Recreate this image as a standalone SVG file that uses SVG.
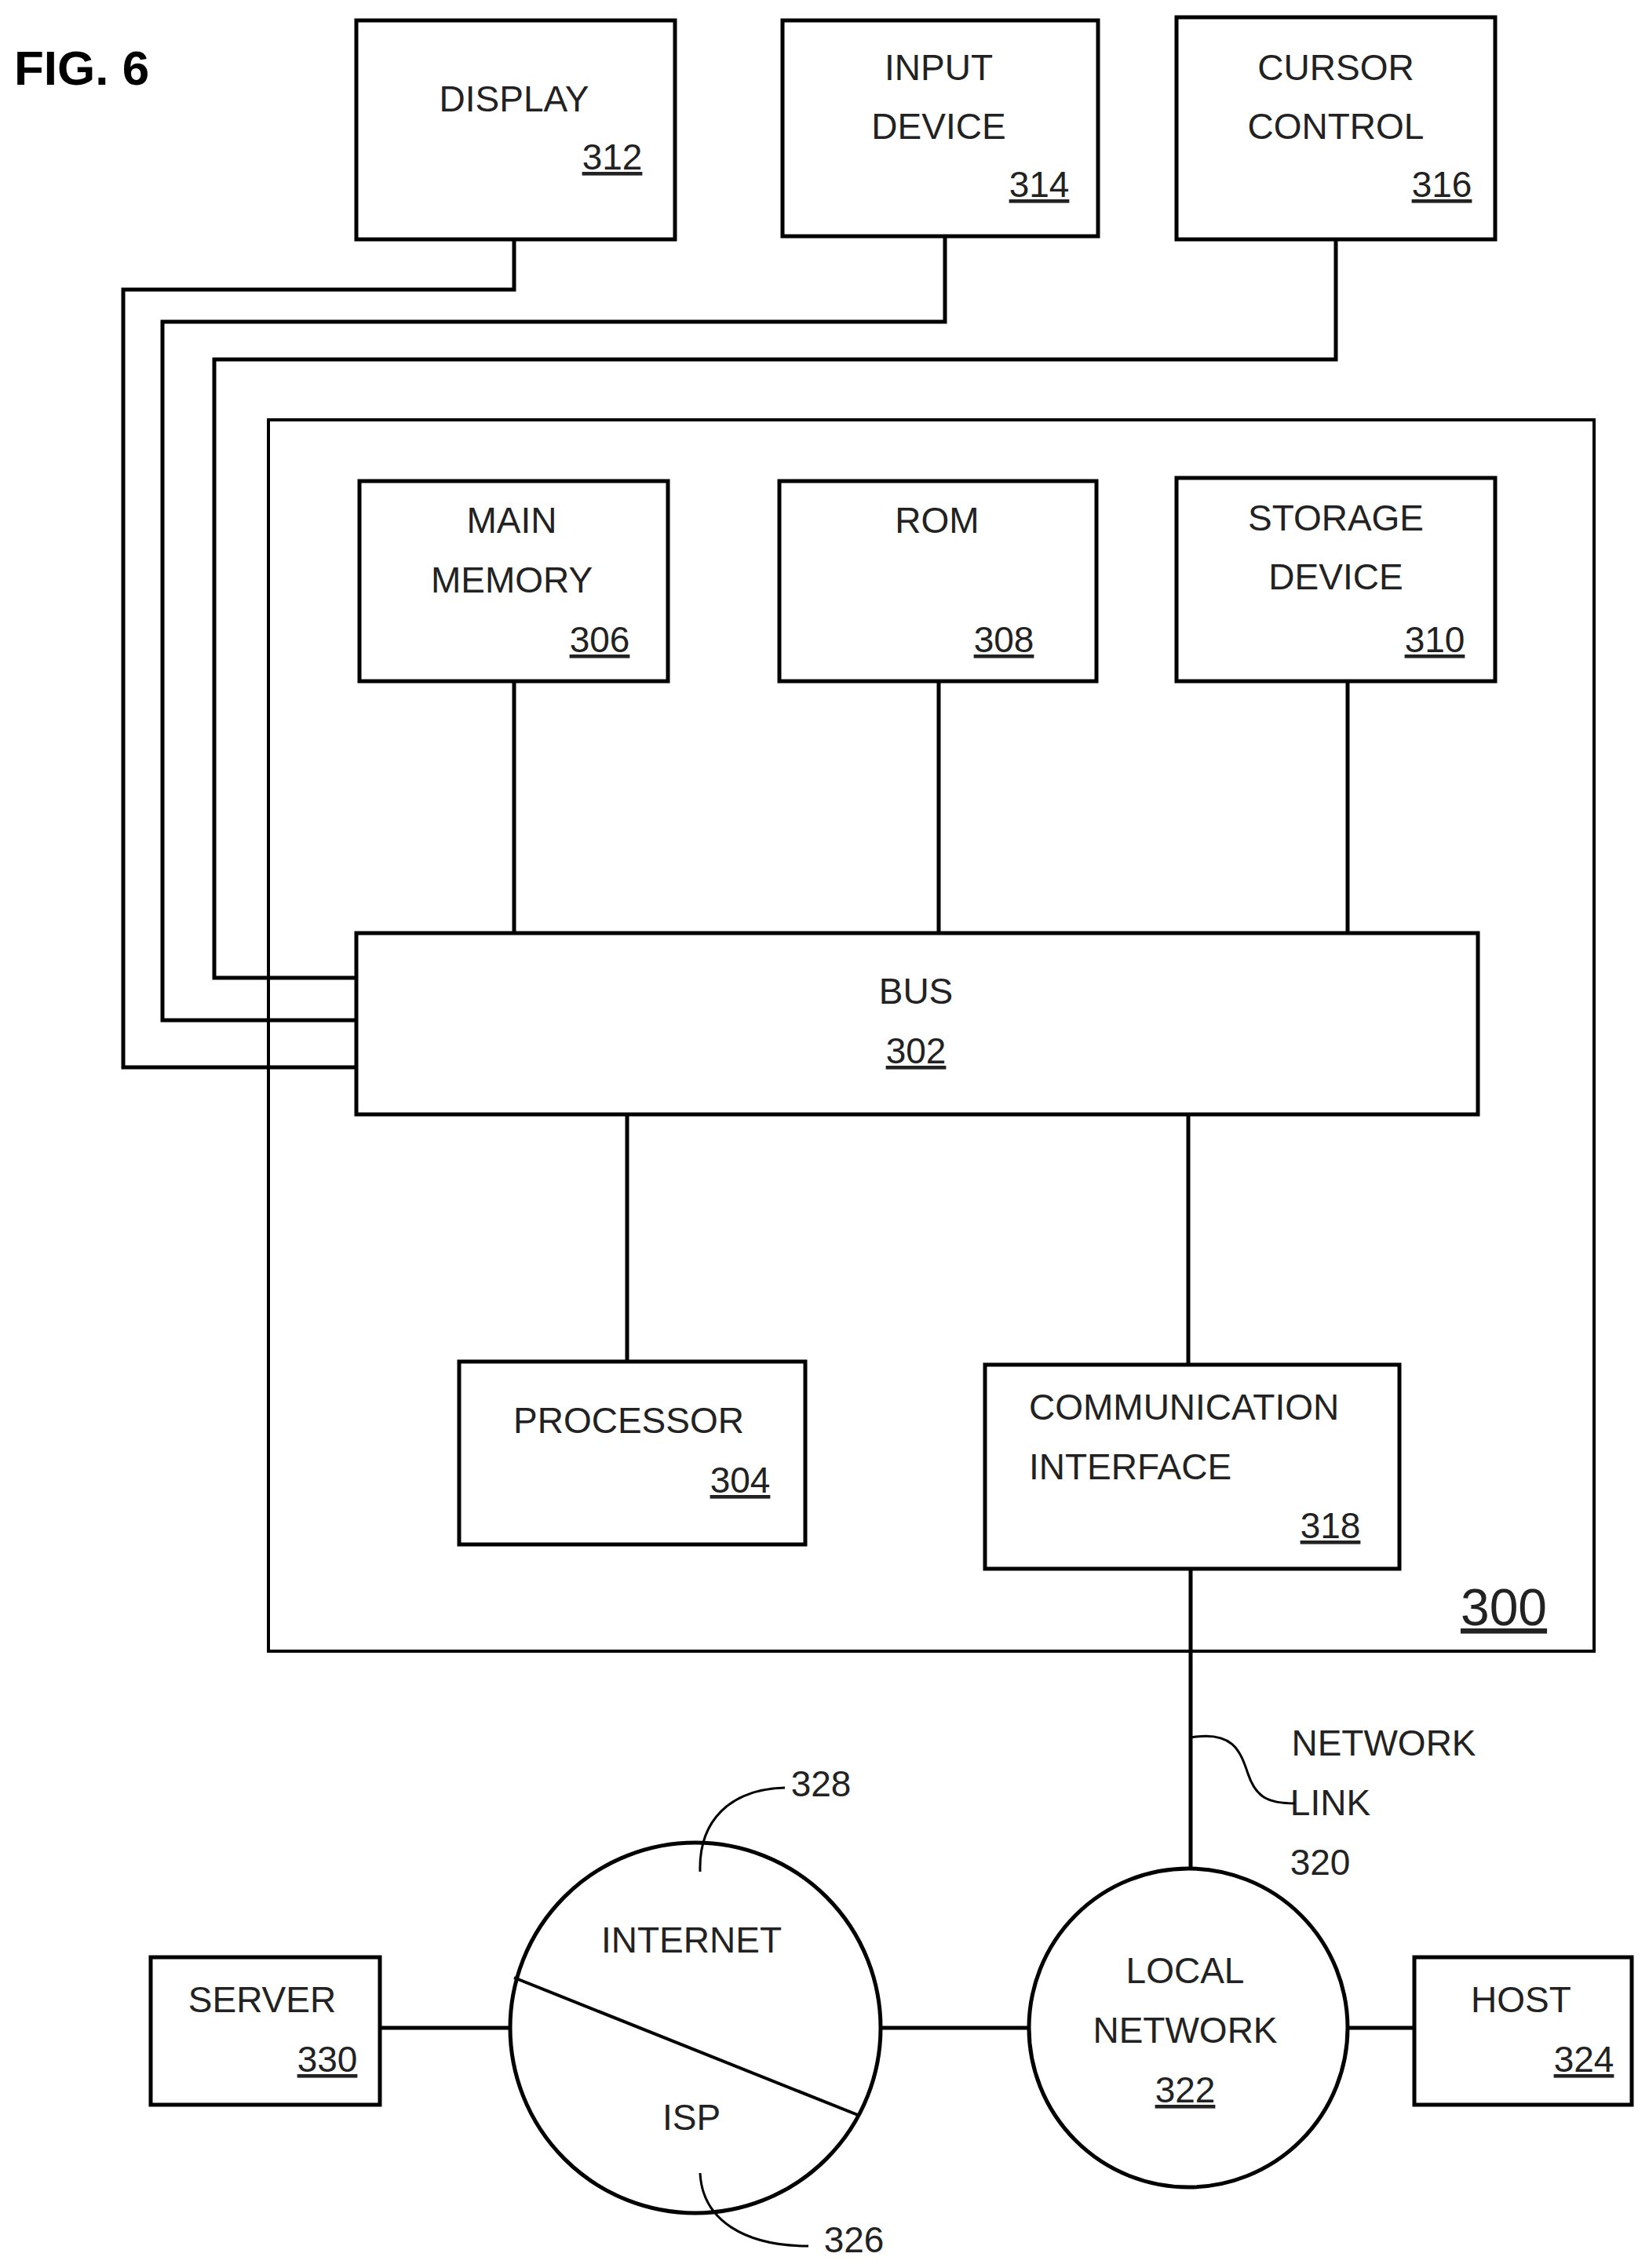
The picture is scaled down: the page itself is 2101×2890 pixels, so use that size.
<svg xmlns="http://www.w3.org/2000/svg" width="2101" height="2890" viewBox="0 0 2101 2890">
<style>
rect,circle,path,line{fill:none;stroke:#000;stroke-width:5}
text{font-family:"Liberation Sans",Arial,sans-serif;font-size:46px;fill:#222;text-anchor:middle}
.u{text-decoration:underline}
</style>
<rect width="2101" height="2890" fill="#fff" style="stroke:none"/>
<text x="18" y="108" style="font-size:62px;font-weight:bold;text-anchor:start;fill:#000">FIG. 6</text>
<g id="n300"><rect x="342" y="535" width="1689" height="1569" style="stroke-width:4"/><text x="1916" y="2071" class="u" style="font-size:66px">300</text></g>
<g id="n312"><rect x="454" y="26" width="406" height="279"/><text x="655" y="142">DISPLAY</text><text x="780" y="216" class="u">312</text></g>
<g id="n314"><rect x="997" y="26" width="402" height="275"/><text x="1196" y="102">INPUT</text><text x="1196" y="177">DEVICE</text><text x="1324" y="251" class="u">314</text></g>
<g id="n316"><rect x="1499" y="22" width="406" height="283"/><text x="1702" y="102">CURSOR</text><text x="1702" y="177">CONTROL</text><text x="1837" y="251" class="u">316</text></g>
<g id="n306"><rect x="458" y="613" width="393" height="255"/><text x="652" y="679">MAIN</text><text x="652" y="755">MEMORY</text><text x="764" y="831" class="u">306</text></g>
<g id="n308"><rect x="993" y="613" width="404" height="255"/><text x="1194" y="679">ROM</text><text x="1279" y="831" class="u">308</text></g>
<g id="n310"><rect x="1499" y="609" width="406" height="259"/><text x="1702" y="676">STORAGE</text><text x="1702" y="751">DEVICE</text><text x="1828" y="831" class="u">310</text></g>
<g id="n302"><rect x="454" y="1189" width="1429" height="231"/><text x="1167" y="1279">BUS</text><text x="1167" y="1355" class="u">302</text></g>
<g id="n304"><rect x="585" y="1735" width="441" height="233"/><text x="801" y="1826">PROCESSOR</text><text x="943" y="1902" class="u">304</text></g>
<g id="n318"><rect x="1255" y="1739" width="528" height="260"/><text x="1311" y="1809" style="text-anchor:start">COMMUNICATION</text><text x="1311" y="1885" style="text-anchor:start">INTERFACE</text><text x="1695" y="1960" class="u">318</text></g>
<g id="n330"><rect x="192" y="2494" width="292" height="188"/><text x="334" y="2564">SERVER</text><text x="417" y="2640" class="u">330</text></g>
<g id="n324"><rect x="1802" y="2494" width="277" height="188"/><text x="1938" y="2564">HOST</text><text x="2018" y="2640" class="u">324</text></g>
<g id="n326"><circle cx="886" cy="2584" r="236"/><line x1="655" y1="2520" x2="1093" y2="2695" style="stroke-width:4"/><text x="881" y="2488">INTERNET</text><text x="881" y="2714">ISP</text></g>
<g id="n322"><circle cx="1514" cy="2584" r="203"/><text x="1510" y="2527">LOCAL</text><text x="1510" y="2603">NETWORK</text><text x="1510" y="2679" class="u">322</text></g>
<text x="1763" y="2237">NETWORK</text><text x="1695" y="2313">LINK</text><text x="1682" y="2389">320</text>
<text x="1046" y="2289">328</text><text x="1088" y="2870">326</text>
<g id="connectors">
<path d="M655 305V369H157V1360H454"/>
<path d="M1204 301V410H207V1300H454"/>
<path d="M1702 305V458H273V1246H454"/>
<line x1="655" y1="868" x2="655" y2="1189"/>
<line x1="1196" y1="868" x2="1196" y2="1189"/>
<line x1="1717" y1="868" x2="1717" y2="1189"/>
<line x1="799" y1="1420" x2="799" y2="1735"/>
<line x1="1514" y1="1420" x2="1514" y2="1739"/>
<line x1="1517" y1="1999" x2="1517" y2="2381"/>
<line x1="484" y1="2584" x2="650" y2="2584"/>
<line x1="1122" y1="2584" x2="1311" y2="2584"/>
<line x1="1717" y1="2584" x2="1802" y2="2584"/>
<path d="M1517 2214C1570 2205 1580 2230 1590 2260C1600 2290 1615 2298 1650 2298" style="stroke-width:3"/>
<path d="M892 2385C890 2320 930 2280 1000 2278" style="stroke-width:3"/>
<path d="M892 2769C895 2830 950 2862 1030 2862" style="stroke-width:3"/>
</g>
</svg>
